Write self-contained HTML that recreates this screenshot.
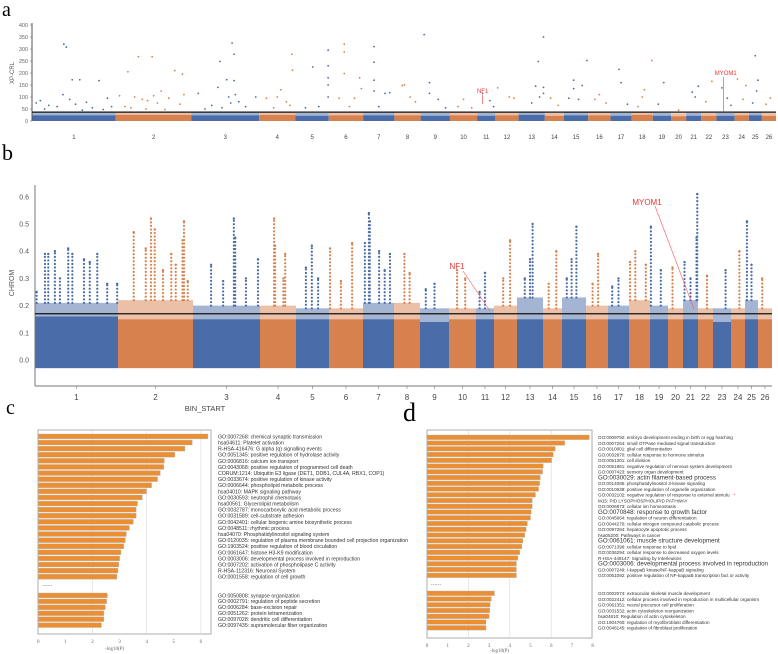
<!DOCTYPE html>
<html><head><meta charset="utf-8"><style>
html,body{margin:0;padding:0;background:#fff;}
svg{display:block;font-family:"Liberation Sans",sans-serif;}
</style></head><body>
<svg id="fig" width="778" height="654" viewBox="0 0 778 654" xmlns="http://www.w3.org/2000/svg">
<text x="2" y="16" font-family="Liberation Serif,serif" font-size="20">a</text>
<text x="2" y="160" font-family="Liberation Serif,serif" font-size="22">b</text>
<text x="6" y="414" font-family="Liberation Serif,serif" font-size="20">c</text>
<text x="403" y="421" font-family="Liberation Serif,serif" font-size="26">d</text>
<g id="pa"></g>
<g id="pb"></g>
<g id="pc"></g>
<g id="pd"></g>
</svg>
<script>
const chromNames = ["1","2","3","4","5","6","7","8","9","10","11","12","13","14","15","16","17","18","19","20","21","22","23","24","25","26"];
const chromLengths = [83,75,67,36,33,34,31,26,29,27,18,23,26,19,24,22,21,21,18,15,15,15,18,14,13,14];
// panel a
const aBandTop = [24,26,24,25,22,24,24,24,22,24,22,24,26,22,24,24,22,26,22,20,22,22,22,24,24,22];
const aTicks = [0,50,100,150,200,250,300,350,400];
const aThreshold = 37;
const aPoints = [
[0,.38,320],[0,.41,308],[0,.48,172],[0,.57,172],[0,.8,168],[0,.37,110],[0,.05,75],[0,.1,85],[0,.2,65],[0,.3,60],[0,.45,90],[0,.52,70],[0,.65,78],[0,.72,55],[0,.9,95],[0,.95,60],[0,.15,50],[0,.6,45],[0,.85,48],
[1,.3,268],[1,.48,268],[1,.16,205],[1,.78,210],[1,.88,195],[1,.6,125],[1,.9,110],[1,.05,105],[1,.25,100],[1,.35,90],[1,.42,85],[1,.5,105],[1,.55,75],[1,.7,95],[1,.85,70],[1,.12,60],[1,.2,55],[1,.4,50],[1,.65,48],
[2,.6,325],[2,.63,278],[2,.42,248],[2,.52,172],[2,.63,168],[2,.39,140],[2,.65,110],[2,.1,115],[2,.3,65],[2,.55,100],[2,.7,80],[2,.8,60],[2,.95,100],[2,.58,75],[2,.2,50],[2,.45,55],
[3,.9,278],[3,.92,212],[3,.6,130],[3,.2,95],[3,.5,100],[3,.75,80],[3,.85,65],[3,.4,55],
[4,.52,225],[4,.98,295],[4,.98,230],[4,.98,180],[4,.98,150],[4,.98,100],[4,.3,55],[4,.7,60],
[5,.45,320],[5,.45,288],[5,.45,198],[5,.9,180],[5,.95,135],[5,.3,95],[5,.6,60],[5,.75,95],
[6,.35,310],[6,.35,245],[6,.35,170],[6,.35,125],[6,.7,115],[6,.85,118],[6,.5,60],
[7,.3,148],[7,.38,150],[7,.6,100],[7,.8,80],
[8,.12,360],[8,.3,160],[8,.3,115],[8,.6,90],[8,.85,55],
[9,.5,90],[9,.3,60],[9,.8,55],
[10,.3,115],[10,.7,85],[10,.9,60],
[11,.1,138],[11,.6,100],[11,.8,95],
[12,.95,350],[12,.75,248],[12,.65,145],[12,.95,140],[12,.95,115],[12,.8,100],[12,.5,75],
[13,.3,95],[13,.7,65],
[14,.95,252],[14,.4,170],[14,.75,148],[14,.2,95],[14,.4,135],[14,.6,90],
[15,.5,110],[15,.3,90],[15,.8,75],
[16,.4,215],[16,.5,160],[16,.8,70],
[17,.6,130],[17,.95,252],[17,.5,100],[17,.3,60],
[18,.6,160],[18,.3,70],
[19,.5,45],
[20,.8,145],[20,.4,120],[20,.6,100],
[21,.7,165],[21,.3,80],
[22,.3,138],[22,.6,95],[22,.8,65],
[23,.2,175],[23,.8,148],[23,.6,90],
[24,.5,272],[24,.7,170],[24,.6,125],[24,.3,75],
[25,.6,95],[25,.3,70]
];
// panel b
const bBandTop = [0.16,0.15,0.15,0.15,0.15,0.15,0.15,0.15,0.14,0.15,0.15,0.15,0.15,0.15,0.15,0.15,0.15,0.15,0.15,0.15,0.15,0.15,0.14,0.15,0.15,0.15];
const bFringeTop = [0.21,0.22,0.2,0.2,0.19,0.19,0.21,0.21,0.19,0.19,0.19,0.2,0.23,0.19,0.23,0.2,0.2,0.22,0.2,0.19,0.22,0.19,0.19,0.19,0.22,0.19];
const bTicks = [0,0.1,0.2,0.3,0.4,0.5,0.6];
const bThreshold = 0.17;
const bPeaks = [
[0,.02,.25],[0,.12,.39],[0,.16,.39],[0,.24,.40],[0,.4,.41],[0,.45,.39],[0,.59,.37],[0,.66,.36],[0,.75,.39],[0,.87,.28],[0,.99,.28],[0,.3,.3],
[1,.21,.47],[1,.37,.41],[1,.44,.52],[1,.49,.48],[1,.71,.39],[1,.77,.35],[1,.88,.51],[1,.86,.44],[1,.93,.29],[1,.6,.33],
[2,.27,.35],[2,.61,.52],[2,.63,.45],[2,.97,.37],[2,.79,.30],[2,.45,.29],
[3,.39,.52],[3,.42,.42],[3,.7,.39],[3,.65,.30],
[4,.48,.42],[4,.3,.34],[4,.67,.30],
[5,.68,.43],[5,.03,.41],[5,.35,.29],
[6,.19,.54],[6,.22,.51],[6,.06,.43],[6,.52,.40],[6,.87,.39],[6,.7,.33],
[7,.4,.39],[7,.6,.32],
[8,.5,.28],[8,.2,.26],
[9,.3,.33],[9,.6,.30],
[10,.5,.32],[10,.2,.25],
[11,.7,.44],[11,.4,.30],
[12,.6,.50],[12,.5,.37],[12,.3,.30],
[13,.7,.40],[13,.3,.28],
[14,.6,.49],[14,.4,.37],[14,.2,.30],
[15,.55,.39],[15,.3,.28],
[16,.5,.30],[16,.2,.27],
[17,.05,.36],[17,.3,.40],[17,.8,.35],
[18,.05,.49],[18,.6,.33],
[19,.3,.34],
[20,.1,.36],[20,.95,.61],[20,.9,.45],[20,.5,.3],
[21,.6,.31],
[22,.7,.33],
[23,.6,.40],
[24,.15,.51],[24,.5,.35],
[25,.3,.30]
];
// panel c
const cValues = [6.26,5.68,5.41,5.04,4.65,4.63,4.50,4.40,4.18,3.99,3.84,3.66,3.61,3.61,3.50,3.36,3.25,3.21,3.15,3.05,3.00,2.97,2.94,2.90];
const cLabels = ["GO:0007268: chemical synaptic transmission","hsa04611: Platelet activation","R-HSA-416476: G alpha (q) signalling events","GO:0051345: positive regulation of hydrolase activity","GO:0006816: calcium ion transport","GO:0043068: positive regulation of programmed cell death","CORUM:1214: Ubiquitin E3 ligase (DET1, DDB1, CUL4A, RBX1, COP1)","GO:0033674: positive regulation of kinase activity","GO:0006644: phospholipid metabolic process","hsa04010: MAPK signaling pathway","GO:0030593: neutrophil chemotaxis","hsa00561: Glycerolipid metabolism","GO:0032787: monocarboxylic acid metabolic process","GO:0031589: cell-substrate adhesion","GO:0042401: cellular biogenic amine biosynthetic process","GO:0048511: rhythmic process","hsa04070: Phosphatidylinositol signaling system","GO:0120035: regulation of plasma membrane bounded cell projection organization","GO:1903524: positive regulation of blood circulation","GO:0061647: histone H3-K9 modification","GO:0003006: developmental process involved in reproduction","GO:0007202: activation of phospholipase C activity","R-HSA-112316: Neuronal System","GO:0001558: regulation of cell growth"];
const cValues2 = [2.55,2.52,2.47,2.42,2.42,2.33];
const cLabels2 = ["GO:0050808: synapse organization","GO:0002791: regulation of peptide secretion","GO:0006284: base-excision repair","GO:0051262: protein tetramerization","GO:0097028: dendritic cell differentiation","GO:0097435: supramolecular fiber organization"];
const cTicks = [0,1,2,3,4,5,6];
// panel d
const dValues = [7.84,6.65,6.19,6.10,6.02,5.61,5.58,5.47,5.44,5.39,5.24,5.08,5.08,5.03,5.00,4.85,4.79,4.72,4.63,4.58,4.48,4.39,4.32,4.32,4.32];
const dLabels = ["GO:0009792: embryo development ending in birth or egg hatching","GO:0007264: small GTPase mediated signal transduction","GO:0010001: glial cell differentiation","GO:0032870: cellular response to hormone stimulus","GO:0051301: cell division","GO:0051961: negative regulation of nervous system development","GO:0007423: sensory organ development","GO:0030029: actin filament-based process","GO:0014065: phosphatidylinositol 3-kinase signaling","GO:0010638: positive regulation of organelle organization","GO:0032102: negative regulation of response to external stimulu","M15: PID LYSOPHOSPHOLIPID PATHWAY","GO:0006873: cellular ion homeostasis","GO:0070848: response to growth factor","GO:0045664: regulation of neuron differentiation","GO:0044270: cellular nitrogen compound catabolic process","GO:0097284: hepatocyte apoptotic process","hsa05200: Pathways in cancer","GO:0061061: muscle structure development","GO:0071396: cellular response to lipid","GO:0036294: cellular response to decreased oxygen levels","R-HSA-449147: Signaling by Interleukins","GO:0003006: developmental process involved in reproduction","GO:0007249: I-kappaB kinase/NF-kappaB signaling","GO:0051092: positive regulation of NF-kappaB transcription fact  or activity"];
const dBig = [7,13,18,22];
const dValues2 = [3.26,3.10,3.05,3.03,3.00,2.85,2.85];
const dLabels2 = ["GO:0002074: extraocular skeletal muscle development","GO:0022412: cellular process involved in reproduction in multicellular organism","GO:0061351: neural precursor cell proliferation","GO:0031532: actin cytoskeleton reorganization","hsa04810: Regulation of actin cytoskeleton","GO:1904760: regulation of myofibroblast differentiation","GO:0048145: regulation of fibroblast proliferation"];
const dTicks = [0,1,2,3,4,5,6,7,8];

const NS="http://www.w3.org/2000/svg";
function mk(parent,tag,attrs,txt){const e=document.createElementNS(NS,tag);for(const k in attrs)e.setAttribute(k,attrs[k]);if(txt!==undefined)e.textContent=txt;parent.appendChild(e);return e;}
const BLUE="#4a6ca8", ORANGE="#d7824e";
const cumStart=[];let acc=0;for(const l of chromLengths){cumStart.push(acc);acc+=l;}const total=acc;

function manhattan(g, x0, x1, yFn, bandLo, bandTop, fringeTop, labelY, small){
  const sx=(x1-x0)/total;
  const xPos=(c,f)=>x0+(cumStart[c]+f*chromLengths[c])*sx;
  chromLengths.forEach((l,c)=>{
    const col=c%2?ORANGE:BLUE;
    const fr=mk(g,'rect',{x:xPos(c,0),y:yFn(fringeTop[c]),width:l*sx,height:yFn(bandTop[c])-yFn(fringeTop[c]),fill:col,opacity:0.5});
    
    
    const r=mk(g,'rect',{x:xPos(c,0),y:yFn(bandTop[c]),width:l*sx,height:yFn(bandLo)-yFn(bandTop[c]),fill:col});
    
    
    const t=mk(g,'text',{x:xPos(c,0.5),y:labelY,'font-size':small?6:8,'text-anchor':'middle',fill:'#444'},chromNames[c]);
    
    
  });
  return xPos;
}

// Panel A
(function(){
  const g=document.getElementById('pa');
  const y=v=>121-v*96/400;
  const x0=32,x1=776;
  const xPos=manhattan(g,x0,x1,y,0,aBandTop,aBandTop.map(v=>v+12),139,true);
  aPoints.forEach(p=>{
    const c=mk(g,'circle',{cx:xPos(p[0],p[1]),cy:y(p[2]),r:0.9,fill:p[0]%2?ORANGE:BLUE});
    
    
  });
  mk(g,'line',{x1:x0,y1:23,x2:x0,y2:121,stroke:'#555','stroke-width':1});
  aTicks.forEach(t=>{
    const tx=mk(g,'text',{x:x0-4,y:y(t)+2,'font-size':5.5,'text-anchor':'end',fill:'#666'},t);
    
    
    mk(g,'line',{x1:x0-2,y1:y(t),x2:x0,y2:y(t),stroke:'#666','stroke-width':0.5});
  });
  const yt=mk(g,'text',{x:0,y:0,'font-size':6,'text-anchor':'middle',fill:'#555',transform:'translate(14,73) rotate(-90)'},'XP-CRL');
  
  
  const th=mk(g,'line',{x1:x0,y1:y(aThreshold),x2:x1,y2:y(aThreshold),stroke:'#111','stroke-width':1.2});
  
  
  const nx=xPos(10,0.3);
  mk(g,'line',{x1:nx,y1:95,x2:nx,y2:104,stroke:'#e33','stroke-width':0.6});
  const n=mk(g,'text',{x:nx,y:93,'font-size':6,'text-anchor':'middle',fill:'#e33'},'NF1');
  
  
  const mx=xPos(22,0.4);
  mk(g,'line',{x1:mx,y1:112,x2:mx,y2:77,stroke:'#e33','stroke-width':0.6});
  const m=mk(g,'text',{x:mx+2,y:75,'font-size':6,'text-anchor':'middle',fill:'#e33'},'MYOM1');
  
  
})();

// Panel B
(function(){
  const g=document.getElementById('pb');
  const y=v=>360-v*272;
  const x0=35,x1=772;
  const xPos=manhattan(g,x0,x1,y,-0.03,bBandTop,bFringeTop,400,false);
  bPeaks.forEach(p=>{
    const col=p[0]%2?ORANGE:BLUE;
    for(let v=bFringeTop[p[0]];v<=p[2]+1e-9;v+=0.013){
      const c=mk(g,'circle',{cx:xPos(p[0],p[1]),cy:y(v),r:1.1,fill:col});
      
      
    }
    const top=mk(g,'circle',{cx:xPos(p[0],p[1]),cy:y(p[2]),r:1.2,fill:col});
    
    
  });
  mk(g,'line',{x1:x0,y1:185,x2:x0,y2:386,stroke:'#777','stroke-width':1});
  mk(g,'line',{x1:x0,y1:386,x2:x1,y2:386,stroke:'#777','stroke-width':1});
  chromLengths.forEach((l,c)=>{const xx=xPos(c,0.5);mk(g,'line',{x1:xx,y1:386,x2:xx,y2:389,stroke:'#777','stroke-width':0.6});});
  bTicks.forEach(t=>{
    const tx=mk(g,'text',{x:x0-6,y:y(t)+2.5,'font-size':7,'text-anchor':'end',fill:'#555'},t.toFixed(1));
    
    
  });
  const yt=mk(g,'text',{x:0,y:0,'font-size':7,'text-anchor':'middle',fill:'#555',transform:'translate(14,283) rotate(-90)'},'CHROM');
  
  
  const xt=mk(g,'text',{x:205,y:411,'font-size':7.5,'text-anchor':'middle',fill:'#444'},'BIN_START');
  
  
  const th=mk(g,'line',{x1:x0,y1:y(bThreshold),x2:x1,y2:y(bThreshold),stroke:'#111','stroke-width':1.3});
  
  
  mk(g,'line',{x1:463,y1:271,x2:490,y2:311,stroke:'#f55','stroke-width':0.6});
  const n=mk(g,'text',{x:457,y:269,'font-size':8,'text-anchor':'middle',fill:'#e33'},'NF1');
  
  
  mk(g,'line',{x1:655,y1:206,x2:694,y2:309,stroke:'#f55','stroke-width':0.6});
  const m=mk(g,'text',{x:647,y:205,'font-size':8,'text-anchor':'middle',fill:'#e33'},'MYOM1');
  
  
})();

function barPanel(id,box,x0,unit,ticks,vals,labels,top1,pitch1,vals2,labels2,top2,pitch2,textX,fs,big,dotsY,axisY,star){
  const g=document.getElementById(id);
  const fr=mk(g,'rect',{x:box[0],y:box[1],width:box[2]-box[0],height:box[3]-box[1],fill:'#fff',stroke:'#999','stroke-width':0.8});
  
  
  ticks.forEach(t=>{
    const xx=x0+t*unit;
    if(t>0&&t%2===0) mk(g,'line',{x1:xx,y1:box[1],x2:xx,y2:box[3],stroke:'#ddd','stroke-width':0.7});
    const tx=mk(g,'text',{x:xx,y:box[3]+9,'font-size':5,'text-anchor':'middle',fill:'#666','font-family':'Liberation Serif,serif'},t);
    
    
  });
  const draw=(vs,ls,top,pitch,grp)=>vs.forEach((v,i)=>{
    const yy=top+i*pitch;
    const b=mk(g,'rect',{x:x0,y:yy,width:v*unit,height:pitch*0.8,fill:'#ec8f33',stroke:'#b5b5b5','stroke-width':0.4});
    
    
    if(ls[i]!==undefined){
      const isBig=grp===1&&big.indexOf(i)>=0;
      const t=mk(g,'text',{x:textX,y:yy+pitch*0.72,'font-size':isBig?fs*1.35:fs,fill:'#333'},ls[i]);
      
      
      if(grp===1&&star===i){
        const s=mk(g,'text',{x:textX+t.getComputedTextLength()+4,y:yy+pitch*0.72,'font-size':fs,fill:'#e33'},'*');
        
        
      }
    }
  });
  draw(vals,labels,top1,pitch1,1);
  draw(vals2,labels2,top2,pitch2,2);
  const d=mk(g,'text',{x:x0+4,y:dotsY,'font-size':6,fill:'#555'},'......');
  
  
  const xt=mk(g,'text',{x:(box[0]+box[2])/2-10,y:axisY,'font-size':5,'text-anchor':'middle',fill:'#666','font-family':'Liberation Serif,serif'},'-log10(P)');
  
  
}
barPanel('pc',[38,430,211,634],38.3,27.1,cTicks,cValues,cLabels,434,6.1,cValues2,cLabels2,593,5.95,218,5.2,[],586,650,-1);
barPanel('pd',[427,430,592,638],427,20.7,dTicks,dValues,dLabels,435,5.75,dValues2,dLabels2,591,5.75,598,4.6,dBig,585,652,10);
</script>
</body></html>
